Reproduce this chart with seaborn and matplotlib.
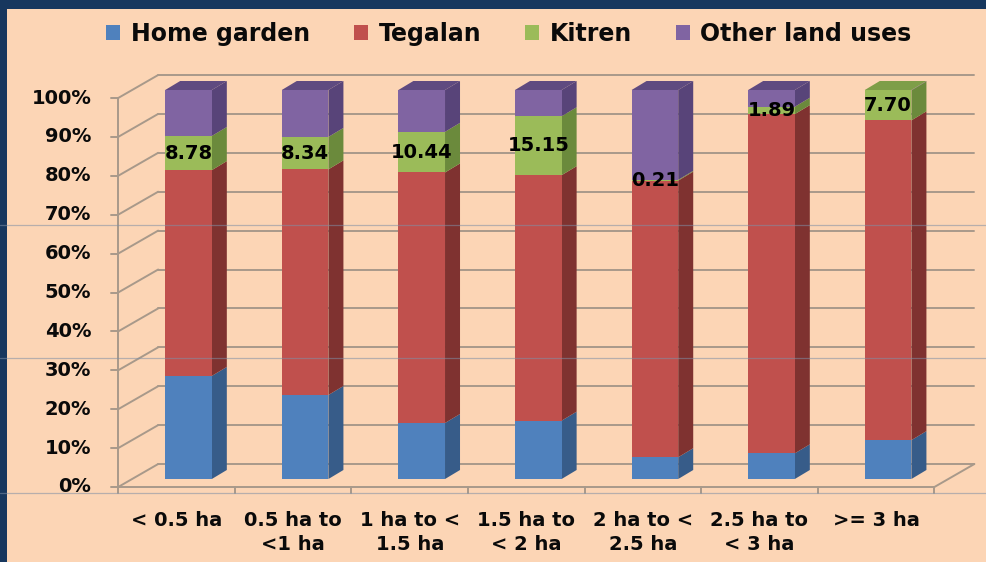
import matplotlib
matplotlib.use("Agg")
import matplotlib.pyplot as plt
from matplotlib.patches import Patch, Rectangle
from matplotlib.lines import Line2D
import numpy as np
import seaborn as sns

# ---- data -------------------------------------------------------------
categories = ["< 0.5 ha", "0.5 ha to\n<1 ha", "1 ha to <\n1.5 ha", "1.5 ha to\n< 2 ha",
              "2 ha to <\n2.5 ha", "2.5 ha to\n< 3 ha", ">= 3 ha"]
home_garden = [26.5, 21.6, 14.4, 15.0, 5.6, 6.6, 10.0]
tegalan = [52.9, 58.0, 64.4, 63.1, 71.1, 87.2, 82.2]
kitren = [8.78, 8.34, 10.44, 15.15, 0.21, 1.89, 7.70]
other_land = [11.82, 12.06, 10.76, 6.75, 23.09, 4.31, 0.10]
kitren_labels = ["8.78", "8.34", "10.44", "15.15", "0.21", "1.89", "7.70"]
series_names = ["Home garden", "Tegalan", "Kitren", "Other land uses"]
y_ticks = list(range(0, 101, 10))

# ---- style ------------------------------------------------------------
sns.set_theme(style="white")
BG = "#FCD5B5"
NAVY = "#17375E"
GRID = "#A8998A"
TXT = "#0A0A0A"
front_cols = ["#4F81BD", "#C0504D", "#9BBB59", "#8064A2"]
side_cols = ["#375C89", "#7F3230", "#6B8A3C", "#584479"]
top_cols = ["#4470A6", "#A34240", "#7E9E48", "#5F4A80"]

W, H = 987, 562
fig = plt.figure(figsize=(W / 100, H / 100), dpi=100, facecolor=BG)
ax = fig.add_axes([0, 0, 1, 1])
ax.set_facecolor("none")

# pixel geometry of the pseudo-3D chart box
px_cat, px_pct = 116.6, 3.89          # px per category, px per percent
x0_px, y0_px = 188.5, 479.0           # first bar centre / bar-plane baseline

bar_w = 0.40
depth = (15 / px_cat, 9 / px_pct)             # bar depth vector
front = (-12 / px_cat, -8 / px_pct)           # front plane relative to bars
wall = (front[0] + 40 / px_cat, front[1] + 23 / px_pct)  # back wall

n = len(categories)
series = [home_garden, tegalan, kitren, other_land]
cum = np.cumsum(np.array(series), axis=0)     # 4 x n cumulative tops

# ---- walls, floor and gridlines ----------------------------------------
fl, fr = -0.5 + front[0], n - 0.5 + front[0]
wl, wr = -0.5 + wall[0], n - 0.5 + wall[0]
for v in y_ticks:
    ax.plot([wl, wr], [v + wall[1], v + wall[1]], color=GRID, lw=1.4, zorder=1)
    ax.plot([fl, wl], [v + front[1], v + wall[1]], color=GRID, lw=1.4, zorder=1)
    ax.plot([fl - 7 / px_cat, fl], [v + front[1]] * 2, color=GRID, lw=1.4, zorder=1)
    ax.text(fl - 27 / px_cat, v + front[1], f"{v}%", ha="right", va="center",
            fontsize=14, fontweight="bold", family="DejaVu Sans", color=TXT)
ax.plot([fl, fl], [front[1], 100 + front[1]], color=GRID, lw=1.4, zorder=1)
ax.plot([fl, fr], [front[1]] * 2, color=GRID, lw=1.4, zorder=1)
ax.plot([fr, wr], [front[1], wall[1]], color=GRID, lw=1.4, zorder=1)
for b in range(n + 1):
    xb = b - 0.5 + front[0]
    ax.plot([xb, xb], [front[1], front[1] - 6 / px_pct], color=GRID, lw=1.4, zorder=1)

# ---- front faces via seaborn (tallest cumulative first) ----------------
for k in range(3, -1, -1):
    sns.barplot(x=list(range(n)), y=cum[k], color=front_cols[k], saturation=1,
                width=bar_w, ax=ax, zorder=3, linewidth=0, order=list(range(n)))

# ---- side and top faces ------------------------------------------------
dx, dy = depth
for i in range(n):
    xr = i + bar_w / 2
    xl = i - bar_w / 2
    lo = 0.0
    for k in range(4):
        hi = cum[k][i]
        if hi > lo:
            ax.fill([xr, xr + dx, xr + dx, xr], [lo, lo + dy, hi + dy, hi],
                    color=side_cols[k], lw=0, zorder=2)
        lo = hi
    top_k = max(k for k in range(4) if series[k][i] > 1.0)
    ax.fill([xl, xr, xr + dx, xl + dx], [cum[3][i]] * 2 + [cum[3][i] + dy] * 2,
            color=top_cols[top_k], lw=0, zorder=2)

# ---- data labels on the Kitren segment ---------------------------------
for i in range(n):
    mid = cum[1][i] + kitren[i] / 2
    ax.text(i, mid, kitren_labels[i], ha="center", va="center", fontsize=14,
            fontweight="bold", family="DejaVu Sans", color="black", zorder=6)

# ---- category labels ----------------------------------------------------
for i, lab in enumerate(categories):
    ax.text(i + front[0], (y0_px - 511) / px_pct, lab, ha="center", va="top",
            fontsize=14, fontweight="bold", family="DejaVu Sans", color=TXT,
            linespacing=1.3)

# ---- axes limits so that data units map onto the pixel layout ----------
ax.set_xlim((0 - x0_px) / px_cat, (W - x0_px) / px_cat)
ax.set_ylim((y0_px - H) / px_pct, y0_px / px_pct)
ax.axis("off")

# ---- legend -------------------------------------------------------------
handles = [Patch(facecolor=c, edgecolor="none") for c in front_cols]
fig.legend(handles, series_names, loc="center", bbox_to_anchor=(509 / W, 1 - 34 / H),
           ncol=4, frameon=False, labelcolor=TXT,
           prop={"family": "DejaVu Sans", "weight": "bold", "size": 17},
           handlelength=0.6, handleheight=0.6, handletextpad=0.45, columnspacing=1.85)

# ---- slide frame --------------------------------------------------------
fig.patches.append(Rectangle((0, 1 - 9 / H), 1, 9 / H, transform=fig.transFigure,
                             facecolor=NAVY, edgecolor="none", zorder=10))
fig.patches.append(Rectangle((0, 0), 7 / W, 1, transform=fig.transFigure,
                             facecolor=NAVY, edgecolor="none", zorder=10))
for py in (225, 358, 493):
    fig.lines.append(Line2D([0, 1], [1 - py / H] * 2, transform=fig.transFigure,
                            color="#7F8FA6", lw=0.9, alpha=0.55, zorder=11))

fig.savefig("out.png", dpi=100, facecolor=BG)
